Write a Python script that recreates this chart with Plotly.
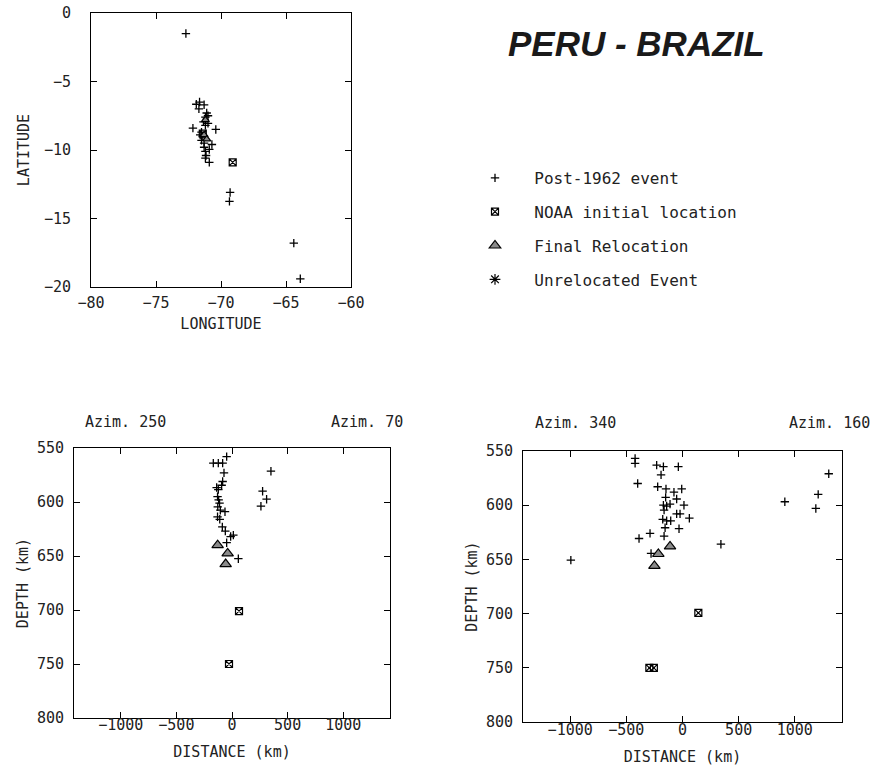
import plotly.graph_objects as go

# ---------------- data ----------------
# Map view (longitude / latitude)
map_post_lon = [-72.7, -71.9, -71.65, -71.3, -71.7, -71.1, -71.0, -71.2, -71.35, -71.0, -71.2,
                -72.16, -70.4, -71.5, -71.6, -71.4, -71.5, -71.3, -70.7, -71.3, -70.9, -71.2,
                -71.15, -71.2, -70.9, -69.3, -69.35, -64.4, -63.9]
map_post_lat = [-1.5, -6.66, -6.5, -6.7, -7.0, -7.3, -7.5, -7.6, -7.95, -8.06, -8.2,
                -8.4, -8.5, -8.7, -8.9, -9.0, -9.3, -9.5, -9.6, -9.8, -9.96, -10.1,
                -10.4, -10.6, -10.9, -13.1, -13.75, -16.8, -19.4]
map_noaa_lon = [-69.1, -71.4]
map_noaa_lat = [-10.9, -8.8]
map_final_lon = [-71.2, -71.3, -71.1]
map_final_lat = [-7.8, -8.9, -9.2]

# Cross-section Azim. 250 - 70 (distance km / depth km)
s1_post_dist = [-48, -168, -123, -84, -72, -84, -93, -138, -123, -130, -120, -112, -128, -105,
                -63, -130, -110, -87, -60, 12, -12, -48, 57, 350, 275, 311, 260]
s1_post_depth = [558, 564, 564, 564, 573, 581, 584.5, 586.6, 588.5, 595, 598, 601, 604.5, 607.6,
                 609, 613.7, 616, 623, 627, 630.7, 632, 637.7, 652.5, 571.5, 590, 597.4, 603.9]
s1_noaa_dist = [63, -27]
s1_noaa_depth = [701, 750]
s1_final_dist = [-129, -39, -57]
s1_final_depth = [640, 647.6, 657.5]

# Cross-section Azim. 340 - 160
s2_post_dist = [-422, -422, -230, -170, -37, -191, -399, -221, -147, -76, -7, -150, -52,
                -170, -141, -111, 13, -164, -52, -22, 61, -176, -141, -105, -155, -31,
                -289, -164, -387, 342, -280, -994, 911, 1187, 1208, 1302]
s2_post_depth = [556.8, 561.4, 563, 564.5, 564.5, 572, 580, 583, 585, 588, 585, 592.8, 594.3,
                 600, 600.8, 599, 600, 604.5, 608, 608, 612, 613, 614.4, 614.4, 620.8, 621.7,
                 626, 628.5, 630.7, 636, 644.5, 650.7, 596.8, 603, 590, 571]
s2_noaa_dist = [141, -295, -255]
s2_noaa_depth = [699.3, 750, 750]
s2_final_dist = [-111, -215, -250]
s2_final_depth = [638, 645, 656]

legend_names = ["Post-1962 event", "NOAA initial location", "Final Relocation", "Unrelocated Event"]

lon_ticks = [-80, -75, -70, -65, -60]
lat_ticks = [0, -5, -10, -15, -20]
dist_ticks = [-1000, -500, 0, 500, 1000]
depth_ticks = [550, 600, 650, 700, 750, 800]

# ---------------- geometry (page pixels; body margin is reset to 0) ----------------
W, H = 886, 768


def fx(px):
    return px / W


def fy(py):
    return 1 - py / H


# ---------------- styles ----------------
FONT = "DejaVu Sans Mono"
TXT = "#222222"
NBSP = "\u00a0"

plus_m = dict(symbol="cross-thin", size=6, line=dict(width=1.3, color="black"), color="black")
noaa_m = dict(symbol="square-x-open", size=7, line=dict(width=1.2, color="black"), color="black")
final_m = dict(symbol="triangle-up", size=10, color="#8a8a8a", line=dict(width=1.2, color="black"))
unrel_m = dict(symbol="asterisk-open", size=9, line=dict(width=1.2, color="black"), color="black")

fig = go.Figure()


def add(x, y, marker, name, xa, ya, show):
    fig.add_trace(go.Scatter(x=x, y=y, mode="markers", marker=marker,
                             name=NBSP * 2 + name, legendgroup=name, showlegend=show,
                             xaxis=xa, yaxis=ya, hoverinfo="x+y"))


# map
add(map_post_lon, map_post_lat, plus_m, legend_names[0], "x", "y", True)
add(map_noaa_lon, map_noaa_lat, noaa_m, legend_names[1], "x", "y", True)
add(map_final_lon, map_final_lat, dict(final_m, size=7), legend_names[2], "x", "y", False)
# section 1
add(s1_post_dist, s1_post_depth, plus_m, legend_names[0], "x2", "y2", False)
add(s1_noaa_dist, s1_noaa_depth, noaa_m, legend_names[1], "x2", "y2", False)
add(s1_final_dist, s1_final_depth, final_m, legend_names[2], "x2", "y2", True)
# section 2
add(s2_post_dist, s2_post_depth, plus_m, legend_names[0], "x3", "y3", False)
add(s2_noaa_dist, s2_noaa_depth, noaa_m, legend_names[1], "x3", "y3", False)
add(s2_final_dist, s2_final_depth, final_m, legend_names[2], "x3", "y3", False)
# unrelocated (legend entry only, no events in this region)
add([None], [None], unrel_m, legend_names[3], "x", "y", True)

axis_common = dict(showline=True, linecolor="black", linewidth=1, mirror="ticks",
                   ticks="inside", ticklen=6, tickcolor="black", showgrid=False, zeroline=False,
                   automargin=False, ticklabeloverflow="allow",
                   tickfont=dict(family=FONT, size=15, color=TXT))
tfont = dict(family=FONT, size=15, color=TXT)

fig.update_layout(
    width=W, height=H,
    margin=dict(l=0, r=0, t=0, b=0, autoexpand=False),
    paper_bgcolor="white", plot_bgcolor="white",
    xaxis=dict(axis_common, domain=[fx(91), fx(351)], range=[-80, -60], tickvals=lon_ticks,
               anchor="y", ticklabelstandoff=2,
               title=dict(text="LONGITUDE", standoff=7, font=tfont)),
    yaxis=dict(axis_common, domain=[fy(287), fy(13)], range=[-20, 0], tickvals=lat_ticks,
               anchor="x", ticklabelstandoff=16,
               title=dict(text="LATITUDE", standoff=10, font=tfont)),
    xaxis2=dict(axis_common, domain=[fx(74), fx(390)], range=[-1420, 1420], tickvals=dist_ticks,
                anchor="y2", ticklabelstandoff=-7,
                title=dict(text="DISTANCE (km)", standoff=13, font=tfont)),
    yaxis2=dict(axis_common, domain=[fy(718), fy(448)], range=[800, 550], tickvals=depth_ticks,
                anchor="x2", ticklabelstandoff=6,
                title=dict(text="DEPTH (km)", standoff=4, font=tfont)),
    xaxis3=dict(axis_common, domain=[fx(523), fx(842)], range=[-1420, 1420], tickvals=dist_ticks,
                anchor="y3", ticklabelstandoff=-6,
                title=dict(text="DISTANCE (km)", standoff=13, font=tfont)),
    yaxis3=dict(axis_common, domain=[fy(722), fy(451)], range=[800, 550], tickvals=depth_ticks,
                anchor="x3", ticklabelstandoff=6,
                title=dict(text="DEPTH (km)", standoff=4, font=tfont)),
    legend=dict(x=fx(475), y=fy(161), xanchor="left", yanchor="top",
                font=dict(family=FONT, size=16, color=TXT), bgcolor="rgba(0,0,0,0)",
                tracegroupgap=10, itemclick=False, itemdoubleclick=False),
    showlegend=True,
)

ann_font = dict(family=FONT, size=15, color=TXT)
fig.add_annotation(text="<b><i>PERU - BRAZIL</i></b>", x=fx(636), y=fy(44),
                   xref="paper", yref="paper", xanchor="center", yanchor="middle", showarrow=False,
                   font=dict(family="Liberation Sans", size=35, color="#1a1a1a"))
for txt, xp, yp, anc in [("Azim. 250", 83, 422, "left"), ("Azim. 70", 405, 422, "right"),
                         ("Azim. 340", 533, 423, "left"), ("Azim. 160", 872, 423, "right")]:
    fig.add_annotation(text=txt, x=fx(xp), y=fy(yp), xref="paper", yref="paper",
                       xanchor=anc, yanchor="middle", showarrow=False, font=ann_font)

fig.write_html("out.html", config={"displayModeBar": False},
               post_script="document.body.style.margin='0';document.body.style.overflow='hidden';")
